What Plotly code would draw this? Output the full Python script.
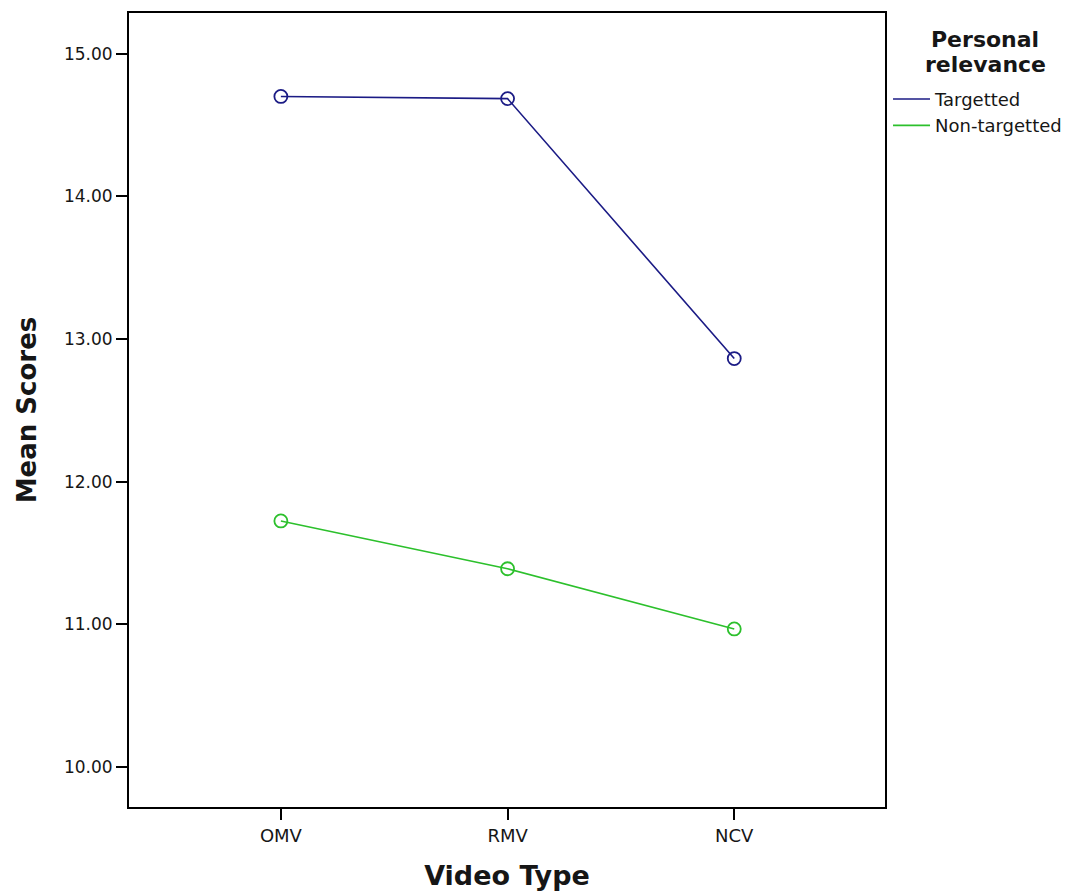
import plotly.graph_objects as go

categories = ["OMV", "RMV", "NCV"]
targetted = [14.70, 14.685, 12.863]
non_targetted = [11.725, 11.39, 10.968]
series_names = ["Targetted", "Non-targetted"]
series_colors = ["#1b1b85", "#2cc02c"]
y_ticks = [10, 11, 12, 13, 14, 15]
legend_title_lines = ["Personal", "relevance"]

fig = go.Figure()
for name, vals, col in zip(series_names, [targetted, non_targetted], series_colors):
    fig.add_trace(go.Scatter(x=categories, y=vals, mode="lines", name=name,
                             line=dict(color=col, width=1.6)))
for name, vals, col in zip(series_names, [targetted, non_targetted], series_colors):
    fig.add_trace(go.Scatter(x=categories, y=vals, mode="markers", name=name, showlegend=False,
                             marker=dict(symbol="circle-open", size=13, color=col,
                                         line=dict(width=1.8, color=col))))

font_fam = "DejaVu Sans"
txt = "#161616"
# plot area: x 129..885, y 11..807 (page has an 8px body margin)
fig.update_layout(
    width=1083, height=893,
    margin=dict(l=121, r=206, t=3, b=94),
    paper_bgcolor="white", plot_bgcolor="white",
    font=dict(family=font_fam, color=txt),
    showlegend=True,
    legend=dict(
        x=1.004, xanchor="left", y=0.9146, yanchor="top",
        font=dict(size=18, family=font_fam, color=txt),
        bgcolor="rgba(0,0,0,0)", tracegroupgap=0, itemwidth=37,
    ),
    xaxis=dict(
        type="category", range=[-0.67, 2.665],
        showline=True, linecolor="black", linewidth=2, mirror=True,
        ticks="outside", ticklen=11, tickwidth=1.5, tickcolor="black",
        showgrid=False, zeroline=False,
        tickfont=dict(size=18, family=font_fam, color=txt),
        title=dict(text="<b>Video Type</b>", font=dict(size=27, family=font_fam, color=txt), standoff=22),
    ),
    yaxis=dict(
        range=[9.72, 15.285],
        tickvals=y_ticks, ticktext=[f"{v:.2f}" for v in y_ticks],
        showline=True, linecolor="black", linewidth=2, mirror=True,
        ticks="outside", ticklen=11, tickwidth=1.5, tickcolor="black",
        showgrid=False, zeroline=False,
        tickfont=dict(size=17, family=font_fam, color=txt),
        title=dict(text="<b>Mean Scores</b>", font=dict(size=26, family=font_fam, color=txt), standoff=20),
    ),
)

for line, y_abs in zip(legend_title_lines, [38, 63]):
    fig.add_annotation(
        text=f"<b>{line}</b>", xref="paper", yref="paper",
        x=(985 - 129) / 756, y=(807 - y_abs) / 796,
        xanchor="center", yanchor="middle", showarrow=False,
        font=dict(size=22, family=font_fam, color=txt),
    )

fig.write_html("out.html")
